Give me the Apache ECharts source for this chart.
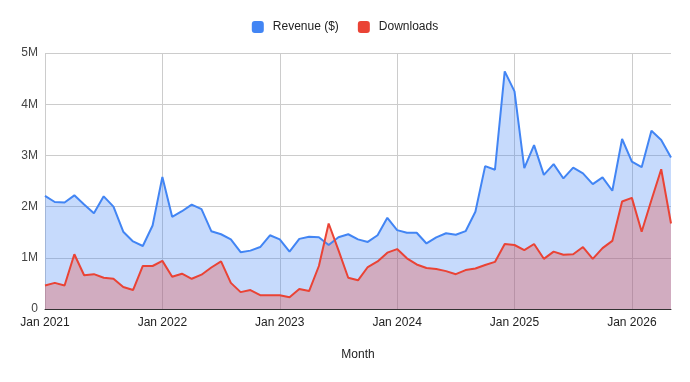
<!DOCTYPE html>
<html>
<head>
<meta charset="utf-8">
<script src="https://cdn.jsdelivr.net/npm/echarts@6/dist/echarts.min.js"></script>
<style>
  html, body { margin: 0; padding: 0; background: #fff; }
  #main { width: 690px; height: 382px; }
</style>
</head>
<body>
<div id="main"></div>
<script>
// monthly values, Jan 2021 .. May 2026 (in millions)
var revenue = [
  2.21, 2.09, 2.08, 2.22, 2.04, 1.87, 2.20, 2.00, 1.51, 1.32, 1.23, 1.63,
  2.58, 1.80, 1.91, 2.04, 1.95, 1.52, 1.46, 1.36, 1.11, 1.14, 1.21, 1.44,
  1.36, 1.12, 1.37, 1.41, 1.40, 1.25, 1.40, 1.46, 1.36, 1.31, 1.44, 1.78,
  1.54, 1.49, 1.49, 1.28, 1.40, 1.48, 1.45, 1.52, 1.90, 2.79, 2.72, 4.64,
  4.25, 2.75, 3.20, 2.62, 2.83, 2.55, 2.76, 2.65, 2.44, 2.57, 2.31, 3.32,
  2.88, 2.77, 3.48, 3.30, 2.96
]
var downloads = [
  0.46, 0.51, 0.46, 1.07, 0.66, 0.68, 0.61, 0.59, 0.43, 0.37, 0.84, 0.84,
  0.94, 0.63, 0.69, 0.59, 0.67, 0.81, 0.93, 0.51, 0.33, 0.37, 0.27, 0.27,
  0.27, 0.23, 0.39, 0.35, 0.84, 1.67, 1.15, 0.61, 0.56, 0.82, 0.93, 1.10,
  1.17, 0.99, 0.87, 0.80, 0.78, 0.74, 0.68, 0.76, 0.79, 0.86, 0.92, 1.27,
  1.25, 1.15, 1.27, 0.98, 1.12, 1.06, 1.07, 1.21, 0.98, 1.19, 1.33, 2.10,
  2.17, 1.51, 2.13, 2.73, 1.67
]
var monthNames = ['Jan', 'Feb', 'Mar', 'Apr', 'May', 'Jun', 'Jul', 'Aug', 'Sep', 'Oct', 'Nov', 'Dec']
var startYear = 2021

var months = []
for (var i = 0; i < revenue.length; i++) {
  months.push(monthNames[i % 12] + ' ' + (startYear + Math.floor(i / 12)))
}

var isJan = function (idx) { return idx % 12 === 0 }
var font = 'Arial, "Liberation Sans", sans-serif'

var myChart = echarts.init(document.getElementById('main'))

myChart.setOption({
  animation: false,
  textStyle: { fontFamily: font },
  legend: {
    top: 16,
    left: 'center',
    icon: 'roundRect',
    itemWidth: 12,
    itemHeight: 12,
    itemGap: 19,
    textStyle: { fontSize: 12, color: '#222', fontFamily: font, padding: [0, 0, 0, 4] },
    data: ['Revenue ($)', 'Downloads']
  },
  grid: { left: 45, right: 19, top: 53, bottom: 73, containLabel: false },
  xAxis: {
    type: 'category',
    boundaryGap: false,
    data: months,
    name: 'Month',
    nameLocation: 'middle',
    nameGap: 40,
    nameTextStyle: { fontSize: 12, color: '#222', fontFamily: font },
    axisLine: { lineStyle: { color: '#333', width: 1 } },
    axisTick: { show: false },
    axisLabel: { interval: isJan, color: '#222', fontSize: 12, margin: 8, fontFamily: font },
    splitLine: { show: true, interval: isJan, lineStyle: { color: '#ccc' } }
  },
  yAxis: {
    type: 'value',
    min: 0,
    max: 5,
    interval: 1,
    axisLine: { show: false },
    axisTick: { show: false },
    axisLabel: {
      color: '#444',
      fontSize: 12,
      margin: 7,
      fontFamily: font,
      formatter: function (v) { return v === 0 ? '0' : v + 'M' }
    },
    splitLine: { lineStyle: { color: '#ccc' } }
  },
  series: [
    {
      name: 'Revenue ($)',
      type: 'line',
      data: revenue,
      showSymbol: false,
      lineStyle: { width: 2, color: '#4285f4' },
      itemStyle: { color: '#4285f4' },
      areaStyle: { color: '#4285f4', opacity: 0.3 }
    },
    {
      name: 'Downloads',
      type: 'line',
      data: downloads,
      showSymbol: false,
      lineStyle: { width: 2, color: '#ea4335' },
      itemStyle: { color: '#ea4335' },
      areaStyle: { color: '#ea4335', opacity: 0.3 }
    }
  ]
})

window.onresize = function () {
  myChart.resize()
}
</script>
</body>
</html>
